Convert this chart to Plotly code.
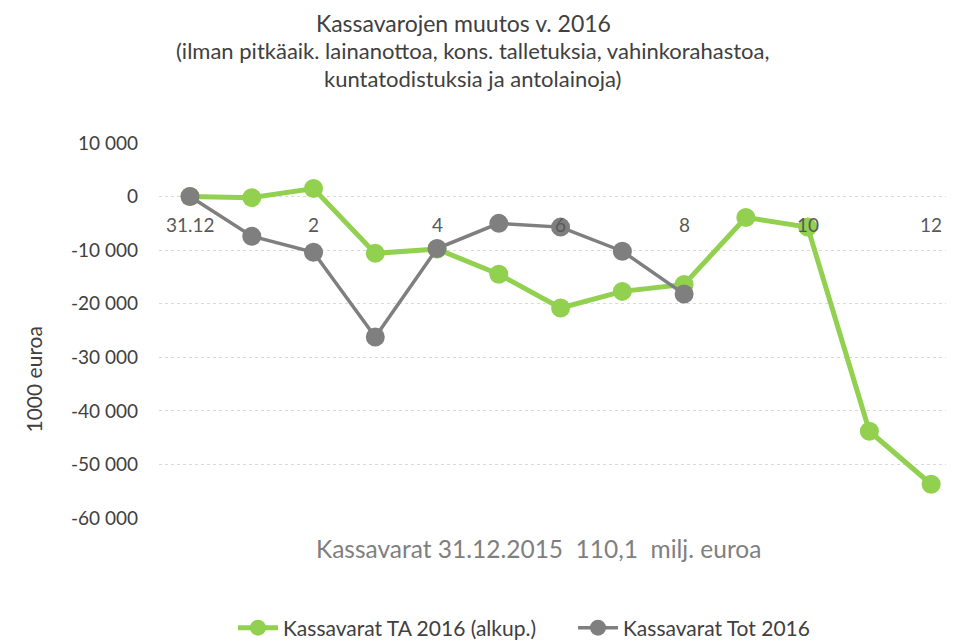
import plotly.graph_objects as go

months = list(range(13))
x_tick_vals = [0, 2, 4, 6, 8, 10, 12]
x_tick_text = ["31.12", "2", "4", "6", "8", "10", "12"]
ta_2016 = [0, -200, 1500, -10600, -9800, -14500, -20800, -17700, -16400, -3900, -5700, -43800, -53700]
tot_months = list(range(9))
tot_2016 = [0, -7400, -10400, -26200, -9700, -5000, -5700, -10200, -18200]
y_tick_vals = [10000, 0, -10000, -20000, -30000, -40000, -50000, -60000]
y_tick_text = ["10 000", "0", "-10 000", "-20 000", "-30 000", "-40 000", "-50 000", "-60 000"]

FONT = "Lato"
OFF = 8  # page body margin
W, H = 954 - OFF, 641 - OFF
L, T, B = 159 - OFF, 143 - OFF, 518 - OFF
PW, PH = W - L, B - T


def px(xr):
    return (xr - OFF - L) / PW


def py(yr):
    return (B - (yr - OFF)) / PH


fig = go.Figure()
fig.add_trace(go.Scatter(x=months, y=ta_2016, mode="lines+markers",
                         name="Kassavarat TA 2016 (alkup.)",
                         line=dict(color="#92D050", width=5),
                         marker=dict(color="#92D050", size=19)))
fig.add_trace(go.Scatter(x=tot_months, y=tot_2016, mode="lines+markers",
                         name="Kassavarat Tot 2016",
                         line=dict(color="#7F7F7F", width=3.5),
                         marker=dict(color="#7F7F7F", size=19)))

for v, t in zip(x_tick_vals, x_tick_text):
    fig.add_annotation(x=v, y=0, xref="x", yref="y", text=t, showarrow=False,
                       yshift=-28, font=dict(family=FONT, size=19, color="#595959"))

fig.add_annotation(x=px(18), y=py(380), xref="paper", yref="paper", text="1000 euroa",
                   showarrow=False, textangle=-90,
                   font=dict(family=FONT, size=21, color="#404040"))

# title: top-anchored at the figure's top edge
fig.add_annotation(x=px(463), y=py(OFF), xref="paper", yref="paper",
                   text="Kassavarojen muutos v. 2016", showarrow=False,
                   xanchor="center", yanchor="top", borderpad=0,
                   font=dict(family=FONT, size=23, color="#404040"))
subtitles = [
    ("(ilman pitkäaik. lainanottoa, kons. talletuksia, vahinkorahastoa,", 472, 50),
    ("kuntatodistuksia ja antolainoja)", 472, 78),
]
for text, xr, yr in subtitles:
    fig.add_annotation(x=px(xr), y=py(yr), xref="paper", yref="paper", text=text,
                       showarrow=False, xanchor="center", yanchor="middle",
                       font=dict(family=FONT, size=22, color="#404040"))

fig.add_annotation(x=px(538), y=py(565), xref="paper", yref="paper",
                   text="Kassavarat 31.12.2015  110,1  milj. euroa", showarrow=False,
                   font=dict(family=FONT, size=24.5, color="#7F7F7F"))

fig.update_layout(
    width=W, height=H,
    margin=dict(l=L, r=0, t=T, b=H - B, autoexpand=False),
    paper_bgcolor="white", plot_bgcolor="white",
    font=dict(family=FONT, color="#404040"),
    xaxis=dict(range=[-0.502, 12.37], showticklabels=False, showgrid=False,
               zeroline=False, showline=False, ticks=""),
    yaxis=dict(range=[-60000, 10000], tickvals=y_tick_vals, ticktext=y_tick_text,
               showgrid=True, gridcolor="#D9D9D9", griddash="dot", gridwidth=1,
               zeroline=False, showline=False, ticks="", ticklabelstandoff=20,
               tickfont=dict(family=FONT, size=19, color="#404040")),
    showlegend=True,
    legend=dict(orientation="h", xref="container", yref="container",
                x=(233 - OFF) / W, y=(641 - 628) / H, xanchor="left", yanchor="middle",
                font=dict(family=FONT, size=21, color="#404040"),
                itemwidth=40, entrywidth=285, entrywidthmode="pixels"),
)

fig.write_html("out.html")
